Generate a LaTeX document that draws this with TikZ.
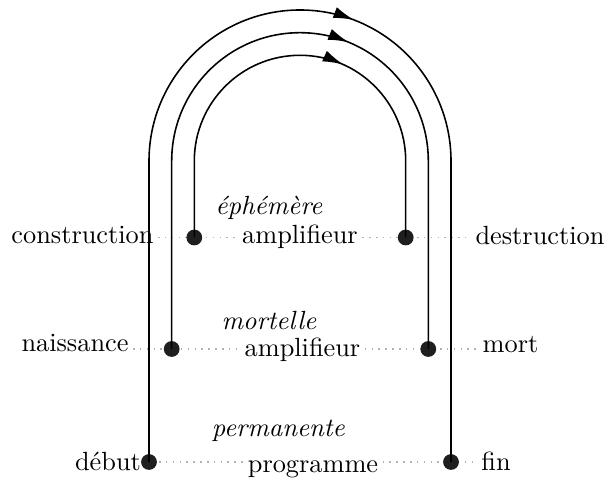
\documentclass[tikz,border=0pt]{standalone}
\usetikzlibrary{arrows.meta,decorations.markings,backgrounds}
\begin{document}
\begin{tikzpicture}[x=0.38pt,y=0.38pt,
  dot/.style={circle,fill=black!88,inner sep=0pt,minimum size=6pt},
  lbl/.style={inner sep=1.5pt,anchor=base},
  guide/.style={draw=black!30,dotted,line width=0.6pt},
  cyc/.style={draw=black,line width=0.6pt},
  tipat/.style={postaction={decorate},decoration={markings,
    mark=at position #1 with {\arrow{Latex[length=7.8pt,width=4.4pt]}}}},
]
\useasboundingbox (0,0) rectangle (607,479);
\coordinate (ctr) at (300,318);
% dots
\node[dot] (dL1) at (194.3,241.5) {};
\node[dot] (dR1) at (405.7,241.5) {};
\node[dot] (dL2) at (171.7,130) {};
\node[dot] (dR2) at (428.3,130) {};
\node[dot] (dL3) at (149,17) {};
\node[dot] (dR3) at (451,17) {};
% labels
\node[lbl] (constr) at (82.5,235) {construction};
\node[lbl] (destr) at (540,234.5) {destruction};
\node[lbl] (amp1) at (300,235) {amplifieur};
\node[lbl] (eph) at (269,264) {\textit{éphémère}};
\node[lbl] (naiss) at (75,127) {naissance};
\node[lbl] (mort) at (510.5,126) {mort};
\node[lbl] (mortelle) at (269,149) {\textit{mortelle}};
\node[lbl] (amp2) at (302.5,122) {amplifieur};
\node[lbl] (debut) at (108,8.5) {début};
\node[lbl] (fin) at (496,8.5) {fin};
\node[lbl] (perm) at (278.5,42) {\textit{permanente}};
\node[lbl] (prog) at (313,6) {programme};
% dotted guides
\begin{scope}[on background layer]
\draw[guide] (constr.east |- dL1) -- (amp1.west |- dL1) (amp1.east |- dL1) -- (destr.west |- dL1);
\draw[guide] (naiss.east |- dL2) -- (amp2.west |- dL2) (amp2.east |- dL2) -- (mort.west |- dL2);
\draw[guide] (debut.east |- dL3) -- (prog.west |- dL3) (prog.east |- dL3) -- (fin.west |- dL3);
\end{scope}
% cycles
\draw[cyc,tipat=225.5pt] (dL3.center) -- (dL3.center |- ctr) arc[start angle=180,end angle=0,radius=151] -- (dR3.center);
\draw[cyc,tipat=167pt] (dL2.center) -- (dL2.center |- ctr) arc[start angle=180,end angle=0,radius=128.3] -- (dR2.center);
\draw[cyc,tipat=109.1pt] (dL1.center) -- (dL1.center |- ctr) arc[start angle=180,end angle=0,radius=105.7] -- (dR1.center);
\end{tikzpicture}
\end{document}
